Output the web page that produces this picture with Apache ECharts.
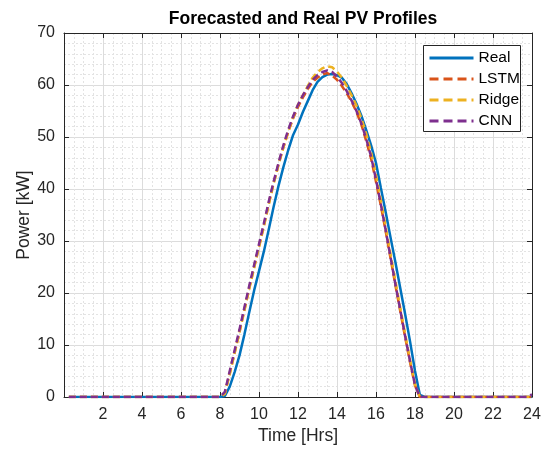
<!DOCTYPE html>
<html>
<head>
<meta charset="utf-8">
<script src="https://cdn.jsdelivr.net/npm/echarts@6/dist/echarts.min.js"></script>
<style>
html,body{margin:0;padding:0;background:#fff;}
#c{width:551px;height:451px;}
</style>
</head>
<body>
<div id="c"></div>
<script>
const hours = [0.25, 8.0, 8.25, 8.5, 8.75, 9.0, 9.25, 9.5, 9.75, 10.0, 10.25, 10.5, 10.75, 11.0, 11.25, 11.5, 11.75, 12.0, 12.25, 12.5, 12.75, 13.0, 13.25, 13.5, 13.75, 14.0, 14.25, 14.5, 14.75, 15.0, 15.25, 15.5, 15.75, 16.0, 16.25, 16.5, 16.75, 17.0, 17.25, 17.5, 17.75, 18.0, 18.25, 18.5, 23.75, 24];
const realPV = [0, 0, 0.2, 2.0, 4.8, 8.0, 12.0, 16.3, 20.5, 24.2, 28.0, 32.2, 36.6, 40.6, 44.2, 47.5, 50.4, 52.4, 54.8, 56.9, 59.0, 60.6, 61.5, 62.0, 62.1, 61.9, 61.4, 60.2, 58.4, 56.4, 54.1, 51.3, 48.4, 45.0, 40.2, 35.5, 30.6, 25.8, 20.8, 15.8, 10.6, 5.0, 0.4, 0, 0, 0];
const lstmPV = [0, 0, 0.8, 4.6, 8.6, 12.6, 16.8, 21.0, 25.0, 29.0, 33.0, 37.2, 41.2, 44.8, 48.0, 51.0, 53.6, 55.8, 57.6, 59.2, 60.6, 61.4, 62.0, 62.3, 61.8, 61.0, 59.8, 58.4, 56.8, 54.8, 52.4, 49.2, 45.8, 41.4, 36.8, 31.8, 26.6, 21.4, 16.4, 11.4, 6.6, 2.2, 0, 0, 0, 0];
const ridgePV = [0, 0, 0.6, 4.4, 8.4, 12.4, 16.6, 20.8, 24.8, 28.8, 32.8, 37.0, 41.0, 44.6, 48.0, 51.0, 53.8, 56.2, 58.0, 59.8, 61.4, 62.5, 63.2, 63.6, 63.4, 62.6, 61.4, 59.8, 58.0, 56.0, 53.6, 50.6, 47.0, 42.6, 37.8, 32.6, 27.4, 22.2, 17.0, 12.0, 7.0, 2.4, 0, 0, 0, 0];
const cnnPV = [0, 0, 1.0, 5.0, 9.0, 13.0, 17.2, 21.4, 25.4, 29.4, 33.4, 37.6, 41.4, 45.0, 48.4, 51.4, 54.0, 56.2, 58.0, 59.6, 61.0, 61.9, 62.5, 62.8, 62.5, 61.6, 60.4, 58.8, 57.0, 55.0, 52.6, 49.6, 46.2, 41.8, 37.0, 32.0, 26.8, 21.6, 16.6, 11.6, 6.8, 2.3, 0, 0, 0, 0.5];
const seriesNames = ['Real', 'LSTM', 'Ridge', 'CNN'];
const seriesColors = ['#0072BD', '#D95319', '#EDB120', '#7E2F8E'];
const seriesValues = [realPV, lstmPV, ridgePV, cnnPV];

const FONT = 'Liberation Sans, Arial, Helvetica, sans-serif';
const TXT = '#262626';
const xMin = 0, xMax = 24, yMin = 0, yMax = 70;

const chart = echarts.init(document.getElementById('c'), null, {renderer: 'canvas'});

const series = seriesNames.map((name, i) => ({
  name: name,
  type: 'line',
  showSymbol: false,
  symbol: 'none',
  smooth: false,
  animation: false,
  data: hours.map((h, k) => [h, seriesValues[i][k]]),
  lineStyle: {
    color: seriesColors[i],
    width: 2.5,
    type: i === 0 ? 'solid' : [7, 4]
  },
  itemStyle: {color: seriesColors[i]},
  z: 3 + i
}));

const gridLines = {
  splitLine: {show: true, lineStyle: {color: '#dcdcdc', width: 1}},
  minorSplitLine: {show: true, lineStyle: {color: '#e3e3e3', width: 1, type: [2, 2]}}
};

chart.setOption({
  animation: false,
  backgroundColor: '#fff',
  title: {
    text: 'Forecasted and Real PV Profiles',
    left: 298, top: 5, textAlign: 'center',
    textStyle: {fontFamily: FONT, fontSize: 17.5, fontWeight: 'bold', color: '#000'}
  },
  grid: {left: 64, right: 19, top: 33, bottom: 54, show: false},
  graphic: [{
    type: 'rect',
    shape: {x: 423.5, y: 45.5, width: 97, height: 86},
    style: {fill: '#fff', stroke: '#262626', lineWidth: 1},
    z: 100
  }],
  legend: {
    orient: 'vertical',
    left: 423, top: 45,
    itemWidth: 44, itemHeight: 14, itemGap: 5, itemTextGap: 2,
    itemStyle: {opacity: 0},
    textStyle: {fontFamily: FONT, fontSize: 15.5, color: '#000'},
    data: seriesNames.map((n, i) => ({
      name: n,
      lineStyle: {width: 3, type: i === 0 ? 'solid' : [9, 5], color: seriesColors[i]}
    })),
    z: 101
  },
  xAxis: [{
    type: 'value', min: xMin, max: xMax, interval: 2,
    position: 'bottom',
    name: 'Time [Hrs]', nameLocation: 'middle', nameGap: 30, nameMoveOverlap: false,
    nameTextStyle: {fontFamily: FONT, fontSize: 17.5, color: TXT},
    axisLine: {show: true, onZero: false, lineStyle: {color: '#262626', width: 1}},
    axisTick: {show: true, inside: true, length: 5, lineStyle: {color: '#262626'}},
    axisLabel: {fontFamily: FONT, fontSize: 16, color: TXT, margin: 10, showMinLabel: false,
      formatter: v => (v === 0 ? '' : String(v))},
    minorTick: {show: false, splitNumber: 4},
    ...gridLines
  }, {
    type: 'value', min: xMin, max: xMax, interval: 2,
    position: 'top',
    axisLine: {show: true, onZero: false, lineStyle: {color: '#262626', width: 1}},
    axisTick: {show: true, inside: true, length: 5, lineStyle: {color: '#262626'}},
    axisLabel: {show: false},
    splitLine: {show: false}
  }],
  yAxis: [{
    type: 'value', min: yMin, max: yMax, interval: 10,
    position: 'left',
    name: 'Power [kW]', nameLocation: 'middle', nameGap: 31, nameMoveOverlap: false,
    nameTextStyle: {fontFamily: FONT, fontSize: 17.5, color: TXT},
    axisLine: {show: true, onZero: false, lineStyle: {color: '#262626', width: 1}},
    axisTick: {show: true, inside: true, length: 5, lineStyle: {color: '#262626'}},
    axisLabel: {fontFamily: FONT, fontSize: 16, color: TXT, margin: 9},
    minorTick: {show: false, splitNumber: 5},
    ...gridLines
  }, {
    type: 'value', min: yMin, max: yMax, interval: 10,
    position: 'right',
    axisLine: {show: true, onZero: false, lineStyle: {color: '#262626', width: 1}},
    axisTick: {show: true, inside: true, length: 5, lineStyle: {color: '#262626'}},
    axisLabel: {show: false},
    splitLine: {show: false}
  }],
  series: series
});
</script>
</body>
</html>
